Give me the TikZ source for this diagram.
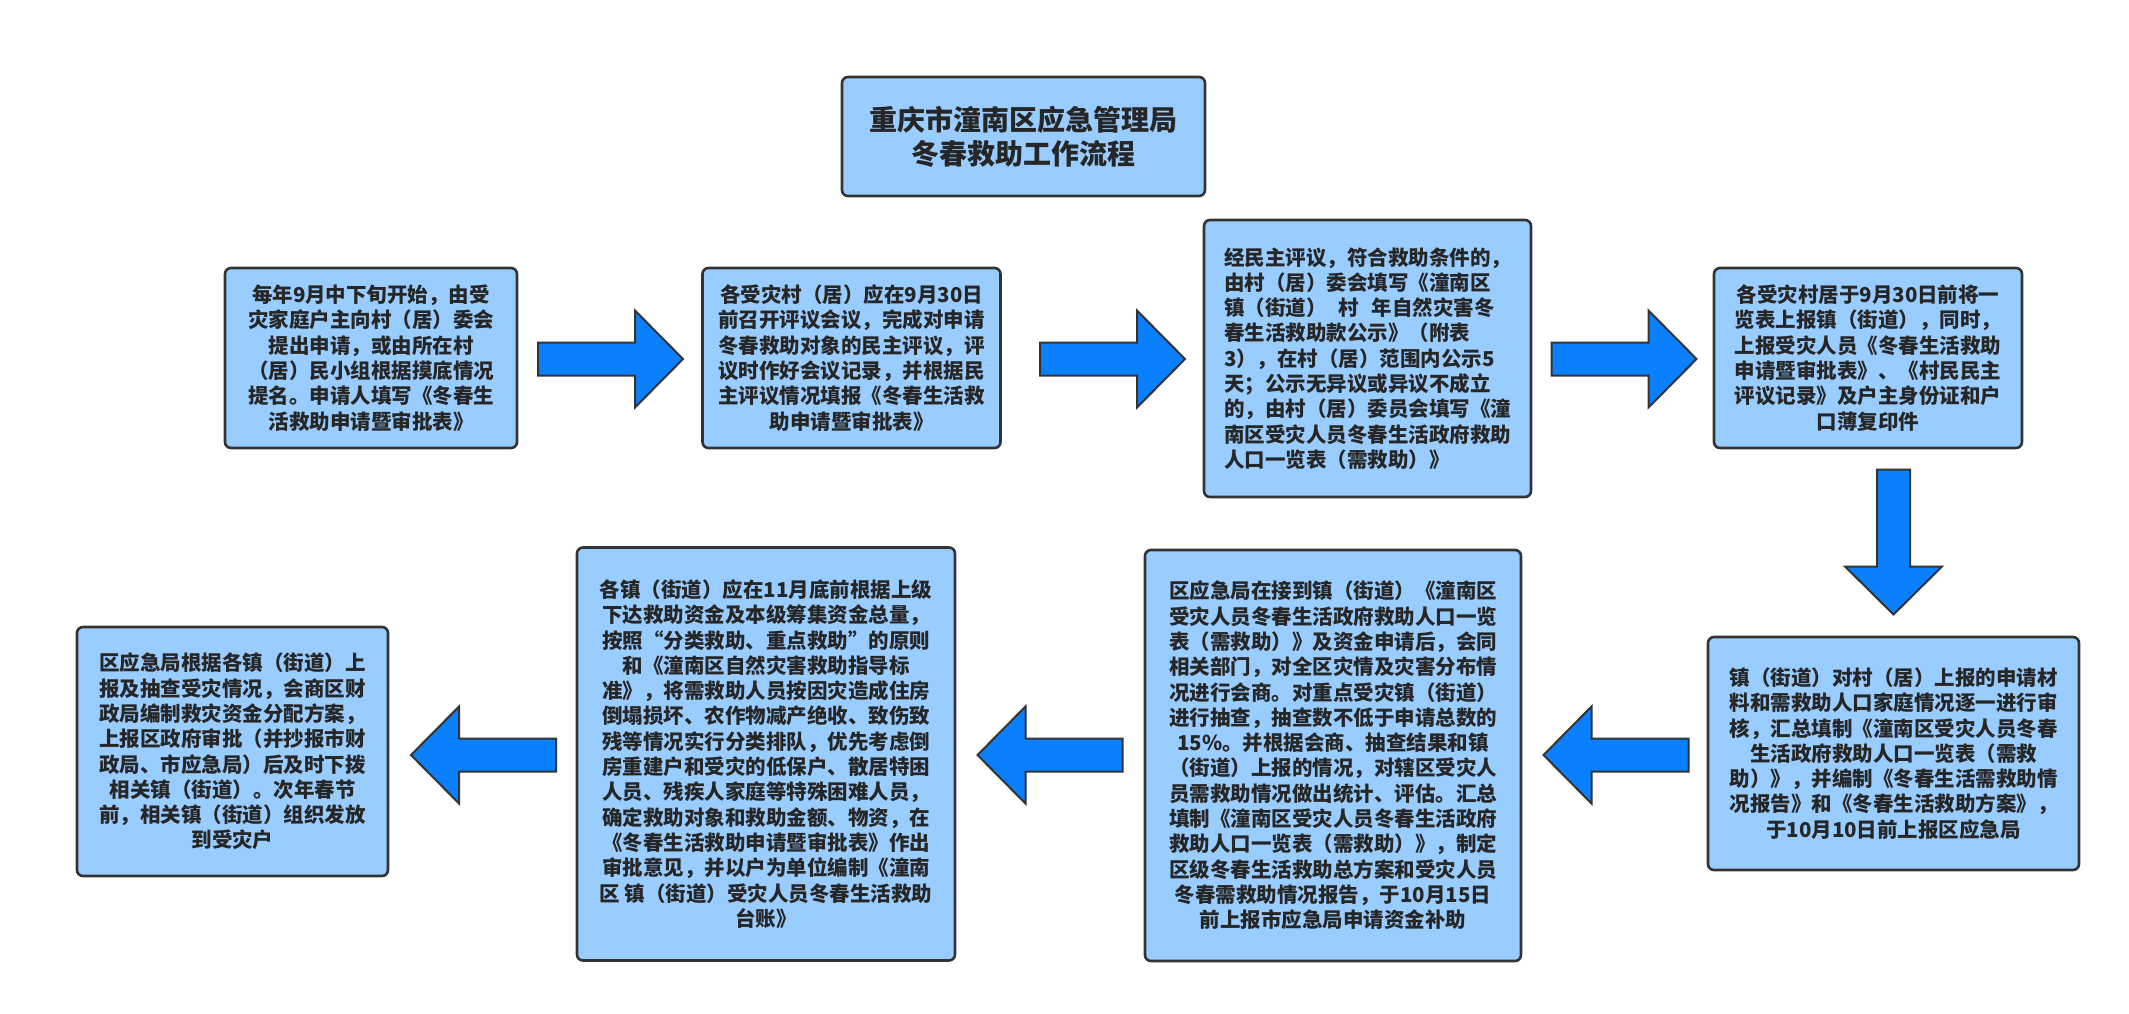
\documentclass[tikz,border=0pt]{standalone}
\usepackage{fontspec}
\setmainfont{Noto Sans CJK SC}
\begin{document}
\begin{tikzpicture}[x=1pt,y=-1pt,
  box/.style={draw=boxline, fill=boxfill, line width=2.6pt, rounded corners=6pt,
    inner sep=0pt, align=center, text=txt,
    font=\fontsize{20.5}{25.3}\selectfont\bfseries},
  titlebox/.style={box, font=\fontsize{28}{34}\selectfont\bfseries},
  blockarrow/.style={draw=boxline, fill=arrowfill, line width=2pt, line join=miter},
  pics/bigarrow/.style={code={
    \draw[blockarrow] (-72.5,-16.5) -- (24.5,-16.5) -- (24.5,-48.5) -- (72.5,0)
      -- (24.5,48.5) -- (24.5,16.5) -- (-72.5,16.5) -- cycle;}}
]
\definecolor{boxfill}{HTML}{99CCFF}
\definecolor{boxline}{HTML}{333333}
\definecolor{arrowfill}{HTML}{0A80FF}
\definecolor{txt}{HTML}{262626}
\useasboundingbox (0,0) rectangle (2129,1013);

\node[titlebox, minimum width=363pt, minimum height=119pt] (title) at (1023.5,136.5)
  {重庆市潼南区应急管理局\\冬春救助工作流程};

\node[box, minimum width=292pt, minimum height=180pt] (b1) at (371,358)
  {每年9月中下旬开始，由受\\灾家庭户主向村（居）委会\\提出申请，或由所在村\\（居）民小组根据摸底情况\\提名。申请人填写《冬春生\\活救助申请暨审批表》};

\node[box, minimum width=298pt, minimum height=180pt] (b2) at (851.5,358)
  {各受灾村（居）应在9月30日\\前召开评议会议，完成对申请\\冬春救助对象的民主评议，评\\议时作好会议记录，并根据民\\主评议情况填报《冬春生活救\\助申请暨审批表》};

\node[box, align=left, minimum width=327pt, minimum height=277pt] (b3) at (1367.5,358.5)
  {经民主评议，符合救助条件的，\\由村（居）委会填写《潼南区\\镇（街道）\hspace{0.6em}村\hspace{0.6em}年自然灾害冬\\春生活救助款公示》（附表\\3），在村（居）范围内公示5\\天；公示无异议或异议不成立\\的，由村（居）委员会填写《潼\\南区受灾人员冬春生活政府救助\\人口一览表（需救助）》};

\node[box, minimum width=308pt, minimum height=180pt] (b4) at (1868,358)
  {各受灾村居于9月30日前将一\\览表上报镇（街道），同时，\\上报受灾人员《冬春生活救助\\申请暨审批表》、《村民民主\\评议记录》及户主身份证和户\\口薄复印件};

\node[box, minimum width=371pt, minimum height=233pt] (b5) at (1893.5,753.5)
  {镇（街道）对村（居）上报的申请材\\料和需救助人口家庭情况逐一进行审\\核，汇总填制《潼南区受灾人员冬春\\生活政府救助人口一览表（需救\\助）》，并编制《冬春生活需救助情\\况报告》和《冬春生活救助方案》，\\于10月10日前上报区应急局};

\node[box, minimum width=376pt, minimum height=411pt] (b6) at (1333,755.5)
  {区应急局在接到镇（街道）《潼南区\\受灾人员冬春生活政府救助人口一览\\表（需救助）》及资金申请后，会同\\相关部门，对全区灾情及灾害分布情\\况进行会商。对重点受灾镇（街道）\\进行抽查，抽查数不低于申请总数的\\15\%。并根据会商、抽查结果和镇\\（街道）上报的情况，对辖区受灾人\\员需救助情况做出统计、评估。汇总\\填制《潼南区受灾人员冬春生活政府\\救助人口一览表（需救助）》，制定\\区级冬春生活救助总方案和受灾人员\\冬春需救助情况报告，于10月15日\\前上报市应急局申请资金补助};

\node[box, minimum width=378pt, minimum height=413pt] (b7) at (766,754)
  {各镇（街道）应在11月底前根据上级\\下达救助资金及本级筹集资金总量，\\按照“分类救助、重点救助”的原则\\和《潼南区自然灾害救助指导标\\准》，将需救助人员按因灾造成住房\\倒塌损坏、农作物减产绝收、致伤致\\残等情况实行分类排队，优先考虑倒\\房重建户和受灾的低保户、散居特困\\人员、残疾人家庭等特殊困难人员，\\确定救助对象和救助金额、物资，在\\《冬春生活救助申请暨审批表》作出\\审批意见，并以户为单位编制《潼南\\区 镇（街道）受灾人员冬春生活救助\\台账》};

\node[box, minimum width=311pt, minimum height=249pt] (b8) at (232.5,751.5)
  {区应急局根据各镇（街道）上\\报及抽查受灾情况，会商区财\\政局编制救灾资金分配方案，\\上报区政府审批（并抄报市财\\政局、市应急局）后及时下拨\\相关镇（街道）。次年春节\\前，相关镇（街道）组织发放\\到受灾户};

% block arrows between the steps
\coordinate (a12) at (610.5,359);
\coordinate (a23) at (1112.5,359);
\coordinate (a34) at (1624,359);
\coordinate (a45) at (1893.5,542);
\coordinate (a56) at (1616,755);
\coordinate (a67) at (1050,755);
\coordinate (a78) at (483.5,755);
\pic at (a12) {bigarrow};
\pic at (a23) {bigarrow};
\pic at (a34) {bigarrow};
\pic[rotate=-90] at (a45) {bigarrow};
\pic[rotate=180] at (a56) {bigarrow};
\pic[rotate=180] at (a67) {bigarrow};
\pic[rotate=180] at (a78) {bigarrow};
\end{tikzpicture}
\end{document}
